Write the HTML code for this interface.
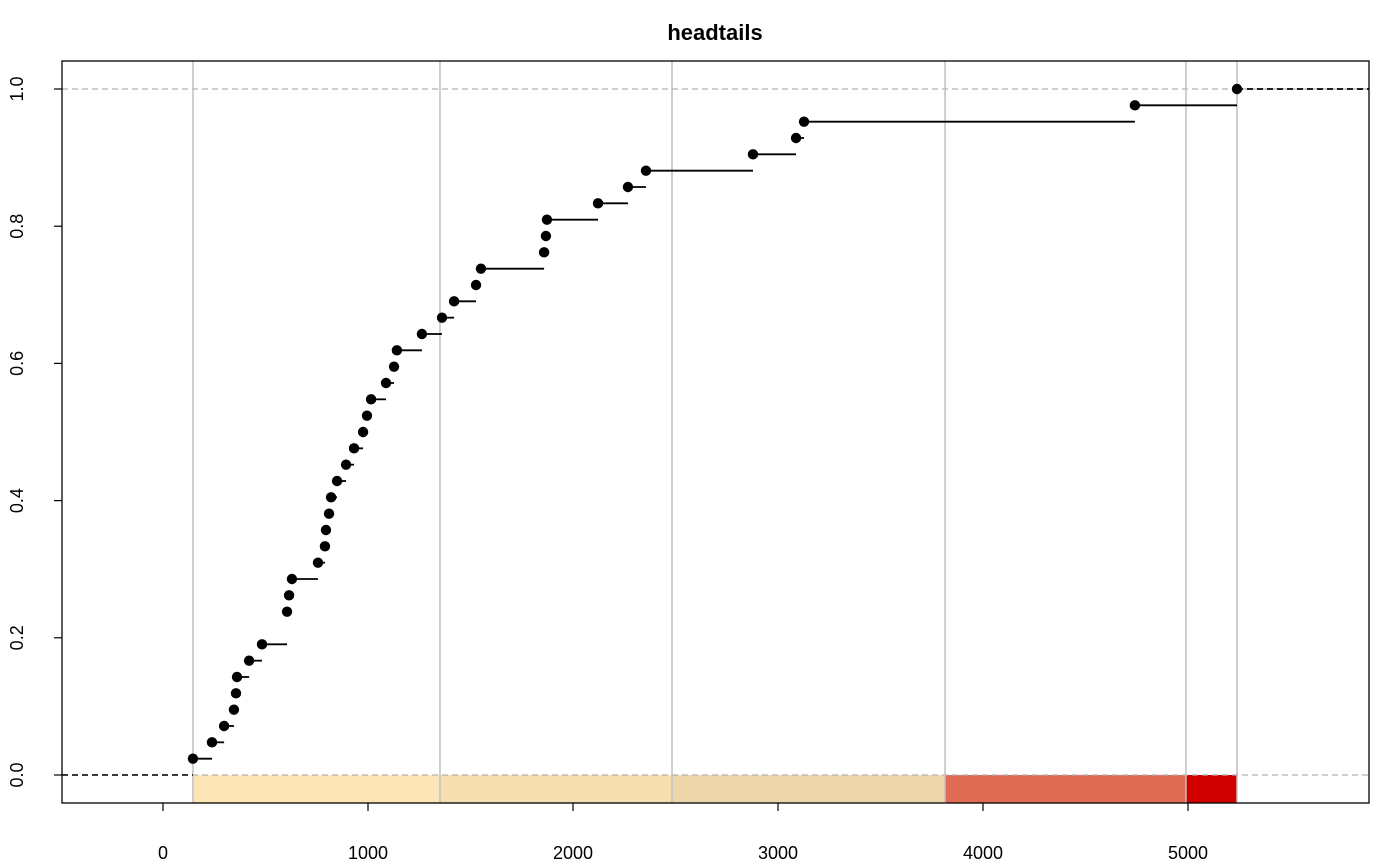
<!DOCTYPE html>
<html><head><meta charset="utf-8"><style>
body{margin:0;background:#fff}
svg{display:block;font-family:"Liberation Sans",Arial,sans-serif}
</style></head><body>
<svg id="chart" width="1400" height="865" viewBox="0 0 1400 865">
<text x="715" y="40" text-anchor="middle" font-size="22" font-weight="bold">headtails</text>
<g id="layer"></g>
</svg>
<script>
const values=[146,239,298,346,356,361,420,483,605,605,615,629,756,790,795,810,820,849,893,932,976,995,1015,1088,1127,1141,1263,1361,1420,1527,1551,1859,1868,1873,2122,2268,2356,2878,3088,3127,4741,5239];
const breaks=[146,1351,2483,3815,4990,5239];
const classColors=["#FEE5B8","#F5DEB0","#EDD6AA","#E06B55","#D00000"];
const xTicks=[0,1000,2000,3000,4000,5000];
const yTicks=[0,0.2,0.4,0.6,0.8,1.0];
const yTickLabels=["0.0","0.2","0.4","0.6","0.8","1.0"];

const L=62,R=1369,T=61,B=803;
const sx=v=>163+v*0.205;
const sy=p=>775-p*686;
const NS="http://www.w3.org/2000/svg";
const g=document.getElementById('layer');
function mk(t,a){const e=document.createElementNS(NS,t);for(const k in a)e.setAttribute(k,a[k]);g.appendChild(e);return e;}

for(let i=0;i<classColors.length;i++){
  const r=mk('rect',{x:sx(breaks[i]),y:sy(0),width:sx(breaks[i+1])-sx(breaks[i]),height:B-sy(0),fill:classColors[i]});
  
  
}
[0,1].forEach(p=>{
  const l=mk('line',{x1:L,x2:R,y1:sy(p),y2:sy(p),stroke:'#b0b0b0','stroke-width':1.3,'stroke-dasharray':'6,4'});
  
  
});
breaks.forEach((b,i)=>{
  const l=mk('line',{x1:sx(b),x2:sx(b),y1:T,y2:B,stroke:'#c0c0c0','stroke-width':1.5});
  
  
});
const n=values.length;
const uniq=[...new Set(values)].sort((a,b)=>a-b);
const F=v=>values.filter(x=>x<=v).length/n;
let l0=mk('line',{x1:L,x2:sx(uniq[0]),y1:sy(0),y2:sy(0),stroke:'#000','stroke-width':1.5,'stroke-dasharray':'6,4'});


uniq.forEach((v,i)=>{
  const p=F(v);
  const x2=i<uniq.length-1?sx(uniq[i+1]):R;
  const s=mk('line',{x1:sx(v),x2:x2,y1:sy(p),y2:sy(p),stroke:'#000','stroke-width':1.8});
  if(i===uniq.length-1)s.setAttribute('stroke-dasharray','6,4');
  
  
  const c=mk('circle',{cx:sx(v),cy:sy(p),r:5.2,fill:'#000'});
  
  
});
const box=mk('rect',{x:L,y:T,width:R-L,height:B-T,fill:'none',stroke:'#000','stroke-width':1.3});


xTicks.forEach(t=>{
  const tk=mk('line',{x1:sx(t),x2:sx(t),y1:B,y2:B+8,stroke:'#000','stroke-width':1.2});
  
  
  const tx=mk('text',{x:sx(t),y:859,'text-anchor':'middle','font-size':18});
  tx.textContent=t;
  
  
});
yTicks.forEach((t,i)=>{
  const tk=mk('line',{x1:L-8,x2:L,y1:sy(t),y2:sy(t),stroke:'#000','stroke-width':1.2});
  
  
  const tx=mk('text',{x:0,y:0,'text-anchor':'middle','font-size':18,transform:`translate(23,${sy(t)}) rotate(-90)`});
  tx.textContent=yTickLabels[i];
  
  
});
</script>
</body></html>
